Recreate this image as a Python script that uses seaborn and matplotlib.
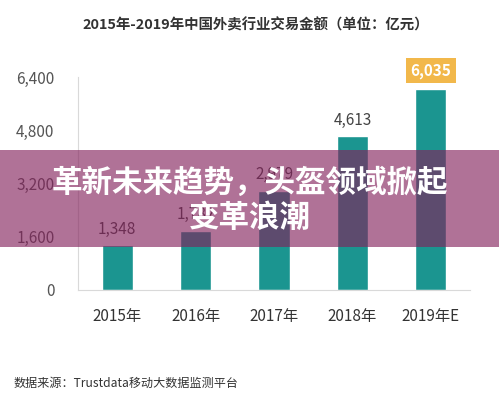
import seaborn as sns
import pandas as pd
import matplotlib.pyplot as plt

years = ['2015年', '2016年', '2017年', '2018年', '2019年E']
amounts = [1348, 1782, 2979, 4613, 6035]
yticks = [0, 1600, 3200, 4800, 6400]

data = pd.DataFrame({'year': years, 'amount': amounts})

sns.set_style('white')
plt.rcParams['font.family'] = ['Noto Sans CJK SC', 'DejaVu Sans']

fig = plt.figure(figsize=(4.99, 3.98), dpi=100)
ax = fig.add_axes([78 / 499, 1 - 290 / 398, 392 / 499, 213 / 398])
sns.barplot(x='year', y='amount', data=data, color='#1b9590', saturation=1,
            width=0.4, ax=ax)

ax.set_xlim(-0.5, 4.5)
ax.set_ylim(0, 6400)
ax.set_yticks(yticks)
ax.set_yticklabels([f'{v:,}' for v in yticks], color='#555555', fontsize=11)
ax.tick_params(axis='x', colors='#333333', labelsize=11, length=0, pad=13)
ax.tick_params(axis='y', length=0, pad=17)
ax.set_xlabel('')
ax.set_ylabel('')
for s in ['top', 'right']:
    ax.spines[s].set_visible(False)
ax.spines['left'].set_color('#d9d9d9')
ax.spines['bottom'].set_color('#d9d9d9')

for i, v in enumerate(amounts):
    if i == len(amounts) - 1:
        ax.text(i, v + 560, f'{v:,}', ha='center', va='center', color='white',
                fontsize=11, fontweight='bold',
                bbox=dict(boxstyle='square,pad=0.3', fc='#f2b84b', ec='none'))
    else:
        ax.text(i, v + 480, f'{v:,}', ha='center', va='center',
                color='#444444', fontsize=11)

fig.text(0.513, 1 - 25 / 398, '2015年-2019年中国外卖行业交易金额（单位：亿元）',
         ha='center', va='center', fontsize=10.4, fontweight='bold', color='#333333')
fig.text(14 / 499, 1 - 383 / 398, '数据来源：Trustdata移动大数据监测平台',
         ha='left', va='center', fontsize=8.7, color='#333333')

# purple banner over the middle
fig.patches.append(plt.Rectangle((0, 1 - 247 / 398), 1, 97 / 398,
                                 transform=fig.transFigure, fc='#84225c',
                                 alpha=0.64, ec='none', zorder=5))
fig.text(0.5, 1 - 183 / 398, '革新未来趋势，头盔领域掀起', ha='center', va='center',
         fontsize=22, fontweight='heavy', color='white', zorder=6)
fig.text(0.5, 1 - 218 / 398, '变革浪潮', ha='center', va='center',
         fontsize=22, fontweight='heavy', color='white', zorder=6)

fig.savefig('out.png', dpi=100)
